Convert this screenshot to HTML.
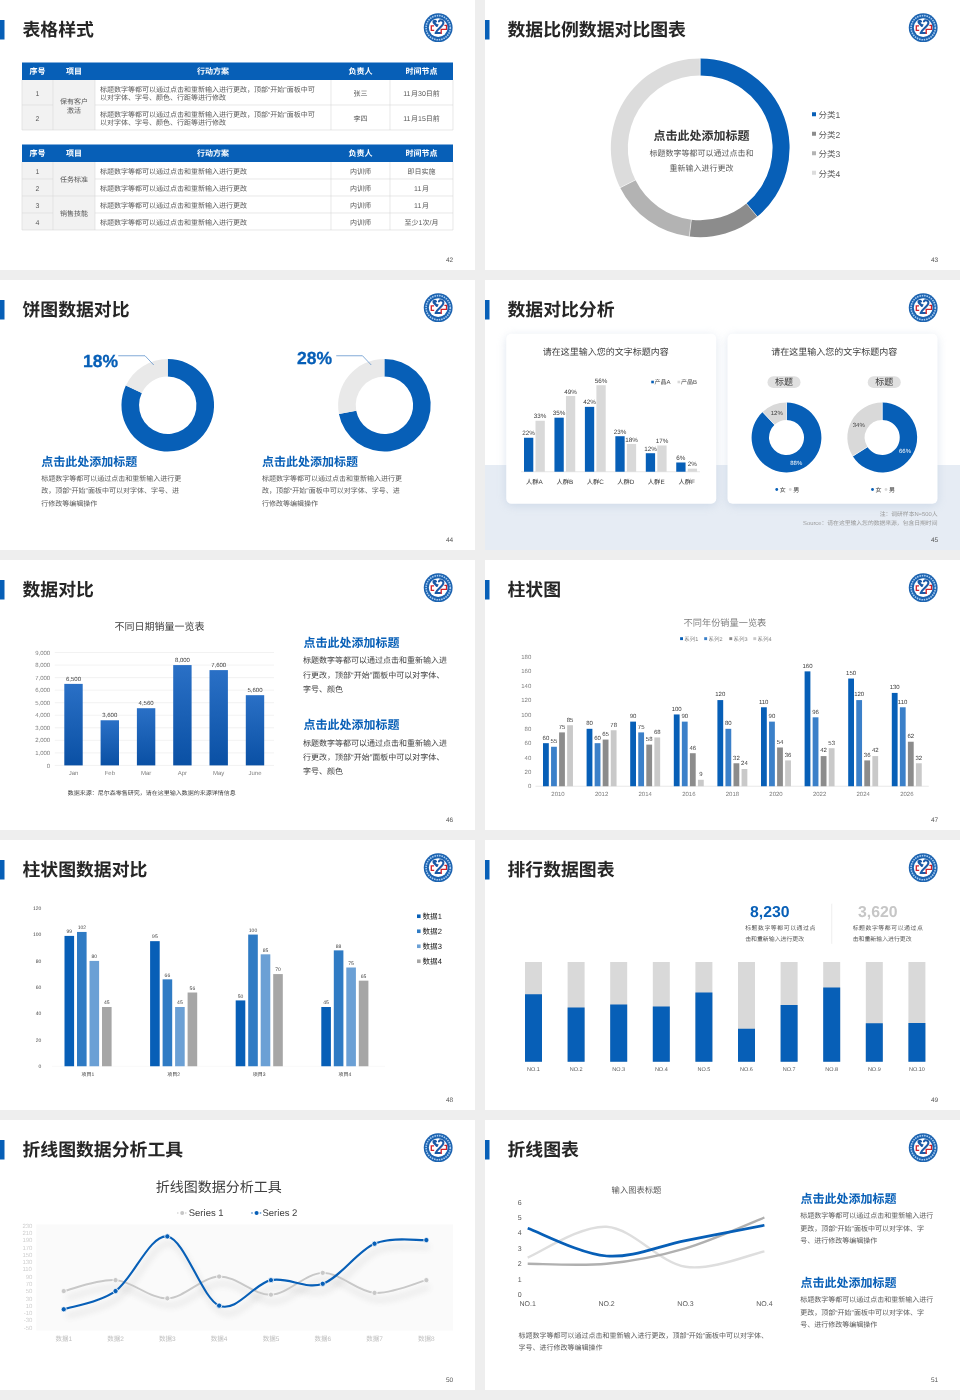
<!DOCTYPE html>
<html lang="zh"><head><meta charset="utf-8"><title>PPT</title>
<style>html,body{margin:0;padding:0;background:#eeeeee;}svg{display:block;opacity:.999}text{font-family:"Liberation Sans","Noto Sans CJK SC",sans-serif;text-rendering:geometricPrecision;}</style>
</head><body>
<svg width="960" height="1400" viewBox="0 0 960 1400" font-family="Liberation Sans, Noto Sans CJK SC, sans-serif">
<defs><g id="logo"><circle r="14.4" fill="#1c63b0"/><circle r="12.100" fill="none" stroke="#a9cdf2" stroke-width="1.600" stroke-dasharray="1.5 0.9"/><circle r="9.4" fill="#fff"/><g fill="none" stroke="#1a59a6" stroke-width="2" stroke-linecap="round" stroke-linejoin="round"><path d="M0.700-6.300C1.900-8 5.500-7.600 5.200-4.600C5-1.600-.2.600-2.700 5.400H2"/><path d="M-1.200-1.900L-3.900-4.500C-5.400-6.200-3.600-7.700-2.300-6.200" stroke-width="2.300"/></g><circle cx="-.4" cy="-2.900" r=".8" fill="#1a59a6"/><g fill="none" stroke="#cf222a" stroke-width="1.300"><path d="M-4.200-1.800H-6.900V2.600H-4"/><path d="M6.200-2.400H8.300V1.600H3V6.200"/></g></g>
<filter id="sh" x="-20%" y="-20%" width="140%" height="140%"><feGaussianBlur stdDeviation="5"/></filter><linearGradient id="bg5" x1="0" y1="0" x2="0" y2="1"><stop offset="0" stop-color="#2a70c6"/><stop offset="1" stop-color="#0a50a4"/></linearGradient><filter id="ls" x="-10%" y="-30%" width="120%" height="180%"><feGaussianBlur stdDeviation="3"/></filter></defs>
<rect width="960" height="1400" fill="#eeeeee"/>
<g transform="translate(0 0)"><rect x="0" y="0" width="475" height="270" fill="#fff"/><rect x="0" y="20" width="4.5" height="19.5" fill="#075fb7"/><g fill="#262626"><text y="36.3" font-size="17.85" font-weight="bold"><tspan x="22.5">表格样式</tspan></text></g><use href="#logo" x="438.2" y="27.7"/><g fill="#555"><text y="262" font-size="6.5"><tspan x="445.89">42</tspan></text></g><rect x="22" y="62.5" width="431" height="17.5" fill="#075fb7"/><g fill="#fff"><text y="74.15" font-size="8" font-weight="bold"><tspan x="29.5">序号</tspan></text></g><g fill="#fff"><text y="74.15" font-size="8" font-weight="bold"><tspan x="66">项目</tspan></text></g><g fill="#fff"><text y="74.15" font-size="8" font-weight="bold"><tspan x="197">行动方案</tspan></text></g><g fill="#fff"><text y="74.15" font-size="8" font-weight="bold"><tspan x="348.5">负责人</tspan></text></g><g fill="#fff"><text y="74.15" font-size="8" font-weight="bold"><tspan x="405.5">时间节点</tspan></text></g><rect x="22" y="80" width="73" height="50" fill="#f2f2f2"/><rect x="95" y="80" width="358" height="50" fill="#fff"/><line x1="22" y1="105" x2="53" y2="105" stroke="#d9d9d9" stroke-width="0.6"/><line x1="95" y1="105" x2="453" y2="105" stroke="#d9d9d9" stroke-width="0.6"/><line x1="22" y1="130" x2="53" y2="130" stroke="#d9d9d9" stroke-width="0.6"/><line x1="95" y1="130" x2="453" y2="130" stroke="#d9d9d9" stroke-width="0.6"/><line x1="53" y1="130" x2="95" y2="130" stroke="#d9d9d9" stroke-width="0.6"/><line x1="22" y1="80" x2="22" y2="130" stroke="#d9d9d9" stroke-width="0.6"/><line x1="53" y1="80" x2="53" y2="130" stroke="#d9d9d9" stroke-width="0.6"/><line x1="95" y1="80" x2="95" y2="130" stroke="#d9d9d9" stroke-width="0.6"/><line x1="331" y1="80" x2="331" y2="130" stroke="#d9d9d9" stroke-width="0.6"/><line x1="390" y1="80" x2="390" y2="130" stroke="#d9d9d9" stroke-width="0.6"/><line x1="453" y1="80" x2="453" y2="130" stroke="#d9d9d9" stroke-width="0.6"/><g fill="#595959"><text y="95.5" font-size="7"><tspan x="35.55">1</tspan></text></g><g fill="#595959"><text y="92.1" font-size="7"><tspan x="100">标题数字等都可以通过点击和重新输入进行更改，顶部“开始”面板中可</tspan></text></g><g fill="#595959"><text y="100.1" font-size="7"><tspan x="100">以对字体、字号、颜色、行距等进行修改</tspan></text></g><g fill="#595959"><text y="95.8" font-size="7"><tspan x="353.5">张三</tspan></text></g><g fill="#595959"><text y="95.8" font-size="7"><tspan x="403.21">11</tspan><tspan x="411">月</tspan><tspan x="418">30</tspan><tspan x="425.79">日前</tspan></text></g><g fill="#595959"><text y="120.5" font-size="7"><tspan x="35.55">2</tspan></text></g><g fill="#595959"><text y="117.1" font-size="7"><tspan x="100">标题数字等都可以通过点击和重新输入进行更改，顶部“开始”面板中可</tspan></text></g><g fill="#595959"><text y="125.1" font-size="7"><tspan x="100">以对字体、字号、颜色、行距等进行修改</tspan></text></g><g fill="#595959"><text y="120.8" font-size="7"><tspan x="353.5">李四</tspan></text></g><g fill="#595959"><text y="120.8" font-size="7"><tspan x="403.21">11</tspan><tspan x="411">月</tspan><tspan x="418">15</tspan><tspan x="425.79">日前</tspan></text></g><g fill="#595959"><text y="104" font-size="7"><tspan x="60">保有客户</tspan></text></g><g fill="#595959"><text y="112.5" font-size="7"><tspan x="67">激活</tspan></text></g><rect x="22" y="144.5" width="431" height="17.5" fill="#075fb7"/><g fill="#fff"><text y="156.15" font-size="8" font-weight="bold"><tspan x="29.5">序号</tspan></text></g><g fill="#fff"><text y="156.15" font-size="8" font-weight="bold"><tspan x="66">项目</tspan></text></g><g fill="#fff"><text y="156.15" font-size="8" font-weight="bold"><tspan x="197">行动方案</tspan></text></g><g fill="#fff"><text y="156.15" font-size="8" font-weight="bold"><tspan x="348.5">负责人</tspan></text></g><g fill="#fff"><text y="156.15" font-size="8" font-weight="bold"><tspan x="405.5">时间节点</tspan></text></g><rect x="22" y="162" width="73" height="68" fill="#f2f2f2"/><rect x="95" y="162" width="358" height="68" fill="#fff"/><line x1="22" y1="179" x2="53" y2="179" stroke="#d9d9d9" stroke-width="0.6"/><line x1="95" y1="179" x2="453" y2="179" stroke="#d9d9d9" stroke-width="0.6"/><line x1="22" y1="196" x2="53" y2="196" stroke="#d9d9d9" stroke-width="0.6"/><line x1="95" y1="196" x2="453" y2="196" stroke="#d9d9d9" stroke-width="0.6"/><line x1="53" y1="196" x2="95" y2="196" stroke="#d9d9d9" stroke-width="0.6"/><line x1="22" y1="213" x2="53" y2="213" stroke="#d9d9d9" stroke-width="0.6"/><line x1="95" y1="213" x2="453" y2="213" stroke="#d9d9d9" stroke-width="0.6"/><line x1="22" y1="230" x2="53" y2="230" stroke="#d9d9d9" stroke-width="0.6"/><line x1="95" y1="230" x2="453" y2="230" stroke="#d9d9d9" stroke-width="0.6"/><line x1="53" y1="230" x2="95" y2="230" stroke="#d9d9d9" stroke-width="0.6"/><line x1="22" y1="162" x2="22" y2="230" stroke="#d9d9d9" stroke-width="0.6"/><line x1="53" y1="162" x2="53" y2="230" stroke="#d9d9d9" stroke-width="0.6"/><line x1="95" y1="162" x2="95" y2="230" stroke="#d9d9d9" stroke-width="0.6"/><line x1="331" y1="162" x2="331" y2="230" stroke="#d9d9d9" stroke-width="0.6"/><line x1="390" y1="162" x2="390" y2="230" stroke="#d9d9d9" stroke-width="0.6"/><line x1="453" y1="162" x2="453" y2="230" stroke="#d9d9d9" stroke-width="0.6"/><g fill="#595959"><text y="173.5" font-size="7"><tspan x="35.55">1</tspan></text></g><g fill="#595959"><text y="173.8" font-size="7"><tspan x="100">标题数字等都可以通过点击和重新输入进行更改</tspan></text></g><g fill="#595959"><text y="173.8" font-size="7"><tspan x="350">内训师</tspan></text></g><g fill="#595959"><text y="173.8" font-size="7"><tspan x="407.5">即日实施</tspan></text></g><g fill="#595959"><text y="190.5" font-size="7"><tspan x="35.55">2</tspan></text></g><g fill="#595959"><text y="190.8" font-size="7"><tspan x="100">标题数字等都可以通过点击和重新输入进行更改</tspan></text></g><g fill="#595959"><text y="190.8" font-size="7"><tspan x="350">内训师</tspan></text></g><g fill="#595959"><text y="190.8" font-size="7"><tspan x="414.11">11</tspan><tspan x="421.89">月</tspan></text></g><g fill="#595959"><text y="207.5" font-size="7"><tspan x="35.55">3</tspan></text></g><g fill="#595959"><text y="207.8" font-size="7"><tspan x="100">标题数字等都可以通过点击和重新输入进行更改</tspan></text></g><g fill="#595959"><text y="207.8" font-size="7"><tspan x="350">内训师</tspan></text></g><g fill="#595959"><text y="207.8" font-size="7"><tspan x="414.11">11</tspan><tspan x="421.89">月</tspan></text></g><g fill="#595959"><text y="224.5" font-size="7"><tspan x="35.55">4</tspan></text></g><g fill="#595959"><text y="224.8" font-size="7"><tspan x="100">标题数字等都可以通过点击和重新输入进行更改</tspan></text></g><g fill="#595959"><text y="224.8" font-size="7"><tspan x="350">内训师</tspan></text></g><g fill="#595959"><text y="224.8" font-size="7"><tspan x="404.58">至少</tspan><tspan x="418.58">1</tspan><tspan x="422.47">次</tspan><tspan x="429.47">/</tspan><tspan x="431.42">月</tspan></text></g><g fill="#595959"><text y="181.6" font-size="7"><tspan x="60">任务标准</tspan></text></g><g fill="#595959"><text y="215.6" font-size="7"><tspan x="60">销售技能</tspan></text></g></g><g transform="translate(485 0)"><rect x="0" y="0" width="475" height="270" fill="#fff"/><rect x="0" y="20" width="4.5" height="19.5" fill="#075fb7"/><g fill="#262626"><text y="36.3" font-size="17.85" font-weight="bold"><tspan x="22.5">数据比例数据对比图表</tspan></text></g><use href="#logo" x="438.2" y="27.7"/><g fill="#555"><text y="262" font-size="6.5"><tspan x="445.89">43</tspan></text></g><path d="M215.2 58.4A89.4 89.4 0 0 1 272.31 216.58L261.45 203.5A72.4 72.4 0 0 0 215.2 75.4Z" fill="#075fb7"/><path d="M272.31 216.58A89.4 89.4 0 0 1 204.3 236.53L206.38 219.66A72.4 72.4 0 0 0 261.45 203.5Z" fill="#8c8c8c"/><path d="M204.3 236.53A89.4 89.4 0 0 1 135.19 187.69L150.41 180.1A72.4 72.4 0 0 0 206.38 219.66Z" fill="#b3b3b3"/><path d="M135.19 187.69A89.4 89.4 0 0 1 215.2 58.4L215.2 75.4A72.4 72.4 0 0 0 150.41 180.1Z" fill="#dcdcdc"/><line x1="261.13" y1="203.12" x2="272.63" y2="216.97" stroke="#fff" stroke-width="0.5"/><line x1="206.44" y1="219.16" x2="204.24" y2="237.03" stroke="#fff" stroke-width="0.5"/><line x1="150.85" y1="179.88" x2="134.75" y2="187.91" stroke="#fff" stroke-width="0.5"/><line x1="215.2" y1="75.9" x2="215.2" y2="57.9" stroke="#fff" stroke-width="0.5"/><g fill="#333"><text y="140.4" font-size="12" font-weight="bold"><tspan x="168.5">点击此处添加标题</tspan></text></g><g fill="#595959"><text y="156" font-size="8"><tspan x="164.5">标题数字等都可以通过点击和</tspan></text></g><g fill="#595959"><text y="170.5" font-size="8"><tspan x="184.5">重新输入进行更改</tspan></text></g><rect x="327" y="112.25" width="4" height="4" fill="#075fb7"/><g fill="#595959"><text y="118.15" font-size="8.5"><tspan x="333.5">分类</tspan><tspan x="350.5">1</tspan></text></g><rect x="327" y="131.75" width="4" height="4" fill="#8c8c8c"/><g fill="#595959"><text y="137.65" font-size="8.5"><tspan x="333.5">分类</tspan><tspan x="350.5">2</tspan></text></g><rect x="327" y="151.25" width="4" height="4" fill="#b3b3b3"/><g fill="#595959"><text y="157.15" font-size="8.5"><tspan x="333.5">分类</tspan><tspan x="350.5">3</tspan></text></g><rect x="327" y="170.75" width="4" height="4" fill="#dcdcdc"/><g fill="#595959"><text y="176.65" font-size="8.5"><tspan x="333.5">分类</tspan><tspan x="350.5">4</tspan></text></g></g><g transform="translate(0 280)"><rect x="0" y="0" width="475" height="270" fill="#fff"/><rect x="0" y="20" width="4.5" height="19.5" fill="#075fb7"/><g fill="#262626"><text y="36.3" font-size="17.85" font-weight="bold"><tspan x="22.5">饼图数据对比</tspan></text></g><use href="#logo" x="438.2" y="27.7"/><g fill="#555"><text y="262" font-size="6.5"><tspan x="445.89">44</tspan></text></g><path d="M167.75 78.95A46.3 46.3 0 1 1 125.86 105.54L141.78 113.03A28.7 28.7 0 1 0 167.75 96.55Z" fill="#075fb7"/><path d="M125.86 105.54A46.3 46.3 0 0 1 167.75 78.95L167.75 96.55A28.7 28.7 0 0 0 141.78 113.03Z" fill="#e9e9e9"/><g fill="#075fb7"><text y="86.75" font-size="17.5" font-weight="bold"><tspan x="83" stroke="#075fb7" stroke-width="0.3">18%</tspan></text></g><path d="M118.25 75.75H145L153.75 85" fill="none" stroke="#4d86c6" stroke-width="0.7"/><g fill="#075fb7"><text y="185.6" font-size="12" font-weight="bold"><tspan x="41.25">点击此处添加标题</tspan></text></g><g fill="#595959"><text y="200.6" font-size="7"><tspan x="41.25">标题数字等都可以通过点击和重新输入进行更</tspan></text></g><g fill="#595959"><text y="213.1" font-size="7"><tspan x="41.25">改，顶部“开始”面板中可以对字体、字号、进</tspan></text></g><g fill="#595959"><text y="225.6" font-size="7"><tspan x="41.25">行修改等编辑操作</tspan></text></g><path d="M384.4 78.95A46.3 46.3 0 1 1 338.92 133.93L356.21 130.63A28.7 28.7 0 1 0 384.4 96.55Z" fill="#075fb7"/><path d="M338.92 133.93A46.3 46.3 0 0 1 384.4 78.95L384.4 96.55A28.7 28.7 0 0 0 356.21 130.63Z" fill="#e9e9e9"/><g fill="#075fb7"><text y="84" font-size="17.5" font-weight="bold"><tspan x="297" stroke="#075fb7" stroke-width="0.3">28%</tspan></text></g><path d="M336.25 75.75H362.5L371.25 85" fill="none" stroke="#4d86c6" stroke-width="0.7"/><g fill="#075fb7"><text y="185.6" font-size="12" font-weight="bold"><tspan x="262">点击此处添加标题</tspan></text></g><g fill="#595959"><text y="200.6" font-size="7"><tspan x="262">标题数字等都可以通过点击和重新输入进行更</tspan></text></g><g fill="#595959"><text y="213.1" font-size="7"><tspan x="262">改，顶部“开始”面板中可以对字体、字号、进</tspan></text></g><g fill="#595959"><text y="225.6" font-size="7"><tspan x="262">行修改等编辑操作</tspan></text></g></g><g transform="translate(485 280)"><rect x="0" y="0" width="475" height="270" fill="#fff"/><rect x="0" y="20" width="4.5" height="19.5" fill="#075fb7"/><g fill="#262626"><text y="36.3" font-size="17.85" font-weight="bold"><tspan x="22.5">数据对比分析</tspan></text></g><use href="#logo" x="438.2" y="27.7"/><g fill="#555"><text y="262" font-size="6.5"><tspan x="445.89">45</tspan></text></g><rect x="0" y="185" width="475" height="85" fill="#e6ecf4"/><g fill="#555"><text y="262" font-size="6.5"><tspan x="445.89">45</tspan></text></g><rect x="21.25" y="55.75" width="210" height="170" rx="6" fill="#9fb4cf" opacity="0.35" filter="url(#sh)"/><rect x="21.25" y="53.75" width="210" height="170" rx="5" fill="#fff"/><rect x="242.5" y="55.75" width="210" height="170" rx="6" fill="#9fb4cf" opacity="0.35" filter="url(#sh)"/><rect x="242.5" y="53.75" width="210" height="170" rx="5" fill="#fff"/><g fill="#404040"><text y="75.3" font-size="9"><tspan x="57.63">请在这里输入您的文字标题内容</tspan></text></g><g fill="#404040"><text y="75.3" font-size="9"><tspan x="286.13">请在这里输入您的文字标题内容</tspan></text></g><line x1="36" y1="191.75" x2="215" y2="191.75" stroke="#d9d9d9" stroke-width="0.6"/><rect x="39" y="157.76" width="9.3" height="33.99" fill="#075fb7"/><rect x="50.5" y="140.76" width="9.3" height="50.98" fill="#d9d9d9"/><g fill="#404040"><text y="155.36" font-size="6.3"><tspan x="37.35">22%</tspan></text></g><g fill="#404040"><text y="138.36" font-size="6.3"><tspan x="48.85">33%</tspan></text></g><g fill="#404040"><text y="204" font-size="6.3"><tspan x="41">人群</tspan><tspan x="53.6">A</tspan></text></g><rect x="69.45" y="137.68" width="9.3" height="54.07" fill="#075fb7"/><rect x="80.95" y="116.05" width="9.3" height="75.7" fill="#d9d9d9"/><g fill="#404040"><text y="135.28" font-size="6.3"><tspan x="67.8">35%</tspan></text></g><g fill="#404040"><text y="113.64" font-size="6.3"><tspan x="79.3">49%</tspan></text></g><g fill="#404040"><text y="204" font-size="6.3"><tspan x="71.45">人群</tspan><tspan x="84.05">B</tspan></text></g><rect x="99.9" y="126.86" width="9.3" height="64.89" fill="#075fb7"/><rect x="111.4" y="105.23" width="9.3" height="86.52" fill="#d9d9d9"/><g fill="#404040"><text y="124.46" font-size="6.3"><tspan x="98.25">42%</tspan></text></g><g fill="#404040"><text y="102.83" font-size="6.3"><tspan x="109.75">56%</tspan></text></g><g fill="#404040"><text y="204" font-size="6.3"><tspan x="101.73">人群</tspan><tspan x="114.33">C</tspan></text></g><rect x="130.35" y="156.22" width="9.3" height="35.53" fill="#075fb7"/><rect x="141.85" y="163.94" width="9.3" height="27.81" fill="#d9d9d9"/><g fill="#404040"><text y="153.81" font-size="6.3"><tspan x="128.7">23%</tspan></text></g><g fill="#404040"><text y="161.54" font-size="6.3"><tspan x="140.2">18%</tspan></text></g><g fill="#404040"><text y="204" font-size="6.3"><tspan x="132.18">人群</tspan><tspan x="144.78">D</tspan></text></g><rect x="160.8" y="173.21" width="9.3" height="18.54" fill="#075fb7"/><rect x="172.3" y="165.49" width="9.3" height="26.27" fill="#d9d9d9"/><g fill="#404040"><text y="170.81" font-size="6.3"><tspan x="159.15">12%</tspan></text></g><g fill="#404040"><text y="163.09" font-size="6.3"><tspan x="170.65">17%</tspan></text></g><g fill="#404040"><text y="204" font-size="6.3"><tspan x="162.8">人群</tspan><tspan x="175.4">E</tspan></text></g><rect x="191.25" y="182.48" width="9.3" height="9.27" fill="#075fb7"/><rect x="202.75" y="188.66" width="9.3" height="3.09" fill="#d9d9d9"/><g fill="#404040"><text y="180.08" font-size="6.3"><tspan x="191.35">6%</tspan></text></g><g fill="#404040"><text y="186.26" font-size="6.3"><tspan x="202.85">2%</tspan></text></g><g fill="#404040"><text y="204" font-size="6.3"><tspan x="193.43">人群</tspan><tspan x="206.03">F</tspan></text></g><rect x="166.25" y="100.7" width="2.6" height="2.6" fill="#075fb7"/><g fill="#404040"><text y="104" font-size="6"><tspan x="169.6">产品</tspan><tspan x="181.6">A</tspan></text></g><rect x="192.5" y="100.7" width="2.6" height="2.6" fill="#d9d9d9"/><g fill="#404040"><text y="104" font-size="6"><tspan x="196">产品</tspan><tspan x="208">B</tspan></text></g><rect x="282.5" y="96.25" width="33" height="11.75" rx="5.9" fill="#e0e0e0"/><g fill="#404040"><text y="105.4" font-size="9"><tspan x="290">标题</tspan></text></g><rect x="382.75" y="96.25" width="33" height="11.75" rx="5.9" fill="#e0e0e0"/><g fill="#404040"><text y="105.4" font-size="9"><tspan x="390.25">标题</tspan></text></g><path d="M301.5 122.6A34.9 34.9 0 1 1 277.61 132.06L289.52 144.74A17.5 17.5 0 1 0 301.5 140Z" fill="#075fb7"/><path d="M277.61 132.06A34.9 34.9 0 0 1 301.5 122.6L301.5 140A17.5 17.5 0 0 0 289.52 144.74Z" fill="#d9d9d9"/><line x1="289.86" y1="145.11" x2="277.27" y2="131.69" stroke="#fff" stroke-width="0.6"/><line x1="301.5" y1="140.5" x2="301.5" y2="122.1" stroke="#fff" stroke-width="0.6"/><g fill="#404040"><text y="135.4" font-size="6"><tspan x="285.75">12%</tspan></text></g><g fill="#fff"><text y="184.6" font-size="6"><tspan x="305.25">88%</tspan></text></g><circle cx="291.75" cy="209.5" r="1.4" fill="#075fb7"/><g fill="#404040"><text y="211.7" font-size="6"><tspan x="294.75">女</tspan></text></g><circle cx="305.25" cy="209.5" r="1.4" fill="#d9d9d9"/><g fill="#404040"><text y="211.7" font-size="6"><tspan x="308.25">男</tspan></text></g><path d="M397.25 122.6A34.9 34.9 0 1 1 367.78 176.2L382.47 166.88A17.5 17.5 0 1 0 397.25 140Z" fill="#075fb7"/><path d="M367.78 176.2A34.9 34.9 0 0 1 397.25 122.6L397.25 140A17.5 17.5 0 0 0 382.47 166.88Z" fill="#d9d9d9"/><line x1="382.9" y1="166.61" x2="367.36" y2="176.47" stroke="#fff" stroke-width="0.6"/><line x1="397.25" y1="140.5" x2="397.25" y2="122.1" stroke="#fff" stroke-width="0.6"/><g fill="#404040"><text y="147.1" font-size="6"><tspan x="367.75">34%</tspan></text></g><g fill="#fff"><text y="172.6" font-size="6"><tspan x="414">66%</tspan></text></g><circle cx="387.5" cy="209.5" r="1.4" fill="#075fb7"/><g fill="#404040"><text y="211.7" font-size="6"><tspan x="390.5">女</tspan></text></g><circle cx="401" cy="209.5" r="1.4" fill="#d9d9d9"/><g fill="#404040"><text y="211.7" font-size="6"><tspan x="404">男</tspan></text></g><g fill="#999"><text y="235.8" font-size="5.8"><tspan x="394.65">注：调研样本</tspan><tspan x="429.45">N=500</tspan><tspan x="446.7">人</tspan></text></g><g fill="#999"><text y="245" font-size="5.8"><tspan x="318.12">Source</tspan><tspan x="336.5">：请在这里输入您的数据来源，包含日期时间</tspan></text></g></g><g transform="translate(0 560)"><rect x="0" y="0" width="475" height="270" fill="#fff"/><rect x="0" y="20" width="4.5" height="19.5" fill="#075fb7"/><g fill="#262626"><text y="36.3" font-size="17.85" font-weight="bold"><tspan x="22.5">数据对比</tspan></text></g><use href="#logo" x="438.2" y="27.7"/><g fill="#555"><text y="262" font-size="6.5"><tspan x="445.89">46</tspan></text></g><g fill="#404040"><text y="69.8" font-size="10"><tspan x="114.4">不同日期销量一览表</tspan></text></g><line x1="54.8" y1="205.4" x2="274" y2="205.4" stroke="#e4e4e4" stroke-width="0.5"/><g fill="#7f7f7f"><text y="207.5" font-size="6"><tspan x="46.86">0</tspan></text></g><line x1="54.8" y1="192.86" x2="274" y2="192.86" stroke="#e4e4e4" stroke-width="0.5"/><g fill="#7f7f7f"><text y="194.96" font-size="6"><tspan x="35.19">1,000</tspan></text></g><line x1="54.8" y1="180.32" x2="274" y2="180.32" stroke="#e4e4e4" stroke-width="0.5"/><g fill="#7f7f7f"><text y="182.42" font-size="6"><tspan x="35.19">2,000</tspan></text></g><line x1="54.8" y1="167.78" x2="274" y2="167.78" stroke="#e4e4e4" stroke-width="0.5"/><g fill="#7f7f7f"><text y="169.88" font-size="6"><tspan x="35.19">3,000</tspan></text></g><line x1="54.8" y1="155.24" x2="274" y2="155.24" stroke="#e4e4e4" stroke-width="0.5"/><g fill="#7f7f7f"><text y="157.34" font-size="6"><tspan x="35.19">4,000</tspan></text></g><line x1="54.8" y1="142.7" x2="274" y2="142.7" stroke="#e4e4e4" stroke-width="0.5"/><g fill="#7f7f7f"><text y="144.8" font-size="6"><tspan x="35.19">5,000</tspan></text></g><line x1="54.8" y1="130.16" x2="274" y2="130.16" stroke="#e4e4e4" stroke-width="0.5"/><g fill="#7f7f7f"><text y="132.26" font-size="6"><tspan x="35.19">6,000</tspan></text></g><line x1="54.8" y1="117.62" x2="274" y2="117.62" stroke="#e4e4e4" stroke-width="0.5"/><g fill="#7f7f7f"><text y="119.72" font-size="6"><tspan x="35.19">7,000</tspan></text></g><line x1="54.8" y1="105.08" x2="274" y2="105.08" stroke="#e4e4e4" stroke-width="0.5"/><g fill="#7f7f7f"><text y="107.18" font-size="6"><tspan x="35.19">8,000</tspan></text></g><line x1="54.8" y1="92.54" x2="274" y2="92.54" stroke="#e4e4e4" stroke-width="0.5"/><g fill="#7f7f7f"><text y="94.64" font-size="6"><tspan x="35.19">9,000</tspan></text></g><rect x="64.3" y="123.89" width="18.4" height="81.51" fill="url(#bg5)"/><g fill="#404040"><text y="120.59" font-size="6"><tspan x="65.99">6,500</tspan></text></g><g fill="#7f7f7f"><text y="214.7" font-size="6"><tspan x="68.66">Jan</tspan></text></g><rect x="100.6" y="160.26" width="18.4" height="45.14" fill="url(#bg5)"/><g fill="#404040"><text y="156.96" font-size="6"><tspan x="102.29">3,600</tspan></text></g><g fill="#7f7f7f"><text y="214.7" font-size="6"><tspan x="104.63">Feb</tspan></text></g><rect x="136.9" y="148.22" width="18.4" height="57.18" fill="url(#bg5)"/><g fill="#404040"><text y="144.92" font-size="6"><tspan x="138.59">4,560</tspan></text></g><g fill="#7f7f7f"><text y="214.7" font-size="6"><tspan x="140.93">Mar</tspan></text></g><rect x="173.2" y="105.08" width="18.4" height="100.32" fill="url(#bg5)"/><g fill="#404040"><text y="101.78" font-size="6"><tspan x="174.89">8,000</tspan></text></g><g fill="#7f7f7f"><text y="214.7" font-size="6"><tspan x="177.73">Apr</tspan></text></g><rect x="209.5" y="110.1" width="18.4" height="95.3" fill="url(#bg5)"/><g fill="#404040"><text y="106.8" font-size="6"><tspan x="211.19">7,600</tspan></text></g><g fill="#7f7f7f"><text y="214.7" font-size="6"><tspan x="213.03">May</tspan></text></g><rect x="245.8" y="135.18" width="18.4" height="70.22" fill="url(#bg5)"/><g fill="#404040"><text y="131.88" font-size="6"><tspan x="247.49">5,600</tspan></text></g><g fill="#7f7f7f"><text y="214.7" font-size="6"><tspan x="248.49">June</tspan></text></g><g fill="#404040"><text y="235.2" font-size="6"><tspan x="67.84">数据来源：尼尔森零售研究，请在这里输入数据的来源详情信息</tspan></text></g><g fill="#075fb7"><text y="87" font-size="12" font-weight="bold"><tspan x="303.5">点击此处添加标题</tspan></text></g><g fill="#404040"><text y="103.2" font-size="8"><tspan x="303">标题数字等都可以通过点击和重新输入进</tspan></text></g><g fill="#404040"><text y="117.5" font-size="8"><tspan x="303">行更改，顶部“开始”面板中可以对字体、</tspan></text></g><g fill="#404040"><text y="131.8" font-size="8"><tspan x="303">字号、颜色</tspan></text></g><g fill="#075fb7"><text y="169.3" font-size="12" font-weight="bold"><tspan x="303.5">点击此处添加标题</tspan></text></g><g fill="#404040"><text y="185.5" font-size="8"><tspan x="303">标题数字等都可以通过点击和重新输入进</tspan></text></g><g fill="#404040"><text y="199.8" font-size="8"><tspan x="303">行更改，顶部“开始”面板中可以对字体、</tspan></text></g><g fill="#404040"><text y="214.1" font-size="8"><tspan x="303">字号、颜色</tspan></text></g></g><g transform="translate(485 560)"><rect x="0" y="0" width="475" height="270" fill="#fff"/><rect x="0" y="20" width="4.5" height="19.5" fill="#075fb7"/><g fill="#262626"><text y="36.3" font-size="17.85" font-weight="bold"><tspan x="22.5">柱状图</tspan></text></g><use href="#logo" x="438.2" y="27.7"/><g fill="#555"><text y="262" font-size="6.5"><tspan x="445.89">47</tspan></text></g><g fill="#7f7f7f"><text y="65.9" font-size="9.2"><tspan x="198.6">不同年份销量一览表</tspan></text></g><rect x="195.1" y="77.2" width="2.9" height="2.9" fill="#075fb7"/><g fill="#7f7f7f"><text y="80.6" font-size="5.5"><tspan x="199.3">系列</tspan><tspan x="210.3">1</tspan></text></g><rect x="219.2" y="77.2" width="2.9" height="2.9" fill="#3b80c9"/><g fill="#7f7f7f"><text y="80.6" font-size="5.5"><tspan x="223.4">系列</tspan><tspan x="234.4">2</tspan></text></g><rect x="244.3" y="77.2" width="2.9" height="2.9" fill="#8c8c8c"/><g fill="#7f7f7f"><text y="80.6" font-size="5.5"><tspan x="248.5">系列</tspan><tspan x="259.5">3</tspan></text></g><rect x="268.3" y="77.2" width="2.9" height="2.9" fill="#c9c9c9"/><g fill="#7f7f7f"><text y="80.6" font-size="5.5"><tspan x="272.5">系列</tspan><tspan x="283.5">4</tspan></text></g><g fill="#7f7f7f"><text y="228.35" font-size="6"><tspan x="42.91">0</tspan></text></g><g fill="#7f7f7f"><text y="213.99" font-size="6"><tspan x="39.58">20</tspan></text></g><g fill="#7f7f7f"><text y="199.63" font-size="6"><tspan x="39.58">40</tspan></text></g><g fill="#7f7f7f"><text y="185.27" font-size="6"><tspan x="39.58">60</tspan></text></g><g fill="#7f7f7f"><text y="170.91" font-size="6"><tspan x="39.58">80</tspan></text></g><g fill="#7f7f7f"><text y="156.55" font-size="6"><tspan x="36.24">100</tspan></text></g><g fill="#7f7f7f"><text y="142.19" font-size="6"><tspan x="36.24">120</tspan></text></g><g fill="#7f7f7f"><text y="127.83" font-size="6"><tspan x="36.24">140</tspan></text></g><g fill="#7f7f7f"><text y="113.47" font-size="6"><tspan x="36.24">160</tspan></text></g><g fill="#7f7f7f"><text y="99.11" font-size="6"><tspan x="36.24">180</tspan></text></g><line x1="50.5" y1="226.25" x2="443.75" y2="226.25" stroke="#d9d9d9" stroke-width="0.6"/><rect x="58" y="183.17" width="5.8" height="43.08" fill="#075fb7"/><g fill="#404040"><text y="179.57" font-size="6"><tspan x="57.56">60</tspan></text></g><rect x="66.05" y="186.76" width="5.8" height="39.49" fill="#3b80c9"/><g fill="#404040"><text y="183.16" font-size="6"><tspan x="65.61">55</tspan></text></g><rect x="74.1" y="172.4" width="5.8" height="53.85" fill="#8c8c8c"/><g fill="#404040"><text y="168.8" font-size="6"><tspan x="73.66">75</tspan></text></g><rect x="82.15" y="165.22" width="5.8" height="61.03" fill="#c9c9c9"/><g fill="#404040"><text y="161.62" font-size="6"><tspan x="81.71">85</tspan></text></g><g fill="#7f7f7f"><text y="235.85" font-size="6"><tspan x="66.33">2010</tspan></text></g><rect x="101.6" y="168.81" width="5.8" height="57.44" fill="#075fb7"/><g fill="#404040"><text y="165.21" font-size="6"><tspan x="101.16">80</tspan></text></g><rect x="109.65" y="183.17" width="5.8" height="43.08" fill="#3b80c9"/><g fill="#404040"><text y="179.57" font-size="6"><tspan x="109.21">60</tspan></text></g><rect x="117.7" y="179.58" width="5.8" height="46.67" fill="#8c8c8c"/><g fill="#404040"><text y="175.98" font-size="6"><tspan x="117.26">65</tspan></text></g><rect x="125.75" y="170.25" width="5.8" height="56" fill="#c9c9c9"/><g fill="#404040"><text y="166.65" font-size="6"><tspan x="125.31">78</tspan></text></g><g fill="#7f7f7f"><text y="235.85" font-size="6"><tspan x="109.93">2012</tspan></text></g><rect x="145.2" y="161.63" width="5.8" height="64.62" fill="#075fb7"/><g fill="#404040"><text y="158.03" font-size="6"><tspan x="144.76">90</tspan></text></g><rect x="153.25" y="172.4" width="5.8" height="53.85" fill="#3b80c9"/><g fill="#404040"><text y="168.8" font-size="6"><tspan x="152.81">75</tspan></text></g><rect x="161.3" y="184.61" width="5.8" height="41.64" fill="#8c8c8c"/><g fill="#404040"><text y="181.01" font-size="6"><tspan x="160.86">58</tspan></text></g><rect x="169.35" y="177.43" width="5.8" height="48.82" fill="#c9c9c9"/><g fill="#404040"><text y="173.83" font-size="6"><tspan x="168.91">68</tspan></text></g><g fill="#7f7f7f"><text y="235.85" font-size="6"><tspan x="153.53">2014</tspan></text></g><rect x="188.8" y="154.45" width="5.8" height="71.8" fill="#075fb7"/><g fill="#404040"><text y="150.85" font-size="6"><tspan x="186.69">100</tspan></text></g><rect x="196.85" y="161.63" width="5.8" height="64.62" fill="#3b80c9"/><g fill="#404040"><text y="158.03" font-size="6"><tspan x="196.41">90</tspan></text></g><rect x="204.9" y="193.22" width="5.8" height="33.03" fill="#8c8c8c"/><g fill="#404040"><text y="189.62" font-size="6"><tspan x="204.46">46</tspan></text></g><rect x="212.95" y="219.79" width="5.8" height="6.46" fill="#c9c9c9"/><g fill="#404040"><text y="216.19" font-size="6"><tspan x="214.18">9</tspan></text></g><g fill="#7f7f7f"><text y="235.85" font-size="6"><tspan x="197.13">2016</tspan></text></g><rect x="232.4" y="140.09" width="5.8" height="86.16" fill="#075fb7"/><g fill="#404040"><text y="136.49" font-size="6"><tspan x="230.29">120</tspan></text></g><rect x="240.45" y="168.81" width="5.8" height="57.44" fill="#3b80c9"/><g fill="#404040"><text y="165.21" font-size="6"><tspan x="240.01">80</tspan></text></g><rect x="248.5" y="203.27" width="5.8" height="22.98" fill="#8c8c8c"/><g fill="#404040"><text y="199.67" font-size="6"><tspan x="248.06">32</tspan></text></g><rect x="256.55" y="209.02" width="5.8" height="17.23" fill="#c9c9c9"/><g fill="#404040"><text y="205.42" font-size="6"><tspan x="256.11">24</tspan></text></g><g fill="#7f7f7f"><text y="235.85" font-size="6"><tspan x="240.73">2018</tspan></text></g><rect x="276" y="147.27" width="5.8" height="78.98" fill="#075fb7"/><g fill="#404040"><text y="143.67" font-size="6"><tspan x="273.89">110</tspan></text></g><rect x="284.05" y="161.63" width="5.8" height="64.62" fill="#3b80c9"/><g fill="#404040"><text y="158.03" font-size="6"><tspan x="283.61">90</tspan></text></g><rect x="292.1" y="187.48" width="5.8" height="38.77" fill="#8c8c8c"/><g fill="#404040"><text y="183.88" font-size="6"><tspan x="291.66">54</tspan></text></g><rect x="300.15" y="200.4" width="5.8" height="25.85" fill="#c9c9c9"/><g fill="#404040"><text y="196.8" font-size="6"><tspan x="299.71">36</tspan></text></g><g fill="#7f7f7f"><text y="235.85" font-size="6"><tspan x="284.33">2020</tspan></text></g><rect x="319.6" y="111.37" width="5.8" height="114.88" fill="#075fb7"/><g fill="#404040"><text y="107.77" font-size="6"><tspan x="317.49">160</tspan></text></g><rect x="327.65" y="157.32" width="5.8" height="68.93" fill="#3b80c9"/><g fill="#404040"><text y="153.72" font-size="6"><tspan x="327.21">96</tspan></text></g><rect x="335.7" y="196.09" width="5.8" height="30.16" fill="#8c8c8c"/><g fill="#404040"><text y="192.49" font-size="6"><tspan x="335.26">42</tspan></text></g><rect x="343.75" y="188.2" width="5.8" height="38.05" fill="#c9c9c9"/><g fill="#404040"><text y="184.6" font-size="6"><tspan x="343.31">53</tspan></text></g><g fill="#7f7f7f"><text y="235.85" font-size="6"><tspan x="327.93">2022</tspan></text></g><rect x="363.2" y="118.55" width="5.8" height="107.7" fill="#075fb7"/><g fill="#404040"><text y="114.95" font-size="6"><tspan x="361.09">150</tspan></text></g><rect x="371.25" y="140.09" width="5.8" height="86.16" fill="#3b80c9"/><g fill="#404040"><text y="136.49" font-size="6"><tspan x="369.14">120</tspan></text></g><rect x="379.3" y="200.4" width="5.8" height="25.85" fill="#8c8c8c"/><g fill="#404040"><text y="196.8" font-size="6"><tspan x="378.86">36</tspan></text></g><rect x="387.35" y="196.09" width="5.8" height="30.16" fill="#c9c9c9"/><g fill="#404040"><text y="192.49" font-size="6"><tspan x="386.91">42</tspan></text></g><g fill="#7f7f7f"><text y="235.85" font-size="6"><tspan x="371.53">2024</tspan></text></g><rect x="406.8" y="132.91" width="5.8" height="93.34" fill="#075fb7"/><g fill="#404040"><text y="129.31" font-size="6"><tspan x="404.69">130</tspan></text></g><rect x="414.85" y="147.27" width="5.8" height="78.98" fill="#3b80c9"/><g fill="#404040"><text y="143.67" font-size="6"><tspan x="412.74">110</tspan></text></g><rect x="422.9" y="181.73" width="5.8" height="44.52" fill="#8c8c8c"/><g fill="#404040"><text y="178.13" font-size="6"><tspan x="422.46">62</tspan></text></g><rect x="430.95" y="203.27" width="5.8" height="22.98" fill="#c9c9c9"/><g fill="#404040"><text y="199.67" font-size="6"><tspan x="430.51">32</tspan></text></g><g fill="#7f7f7f"><text y="235.85" font-size="6"><tspan x="415.13">2026</tspan></text></g></g><g transform="translate(0 840)"><rect x="0" y="0" width="475" height="270" fill="#fff"/><rect x="0" y="20" width="4.5" height="19.5" fill="#075fb7"/><g fill="#262626"><text y="36.3" font-size="17.85" font-weight="bold"><tspan x="22.5">柱状图数据对比</tspan></text></g><use href="#logo" x="438.2" y="27.7"/><g fill="#555"><text y="262" font-size="6.5"><tspan x="445.89">48</tspan></text></g><g fill="#404040"><text y="228.05" font-size="5"><tspan x="38.47">0</tspan></text></g><g fill="#404040"><text y="201.72" font-size="5"><tspan x="35.69">20</tspan></text></g><g fill="#404040"><text y="175.38" font-size="5"><tspan x="35.69">40</tspan></text></g><g fill="#404040"><text y="149.05" font-size="5"><tspan x="35.69">60</tspan></text></g><g fill="#404040"><text y="122.71" font-size="5"><tspan x="35.69">80</tspan></text></g><g fill="#404040"><text y="96.38" font-size="5"><tspan x="32.91">100</tspan></text></g><g fill="#404040"><text y="70.05" font-size="5"><tspan x="32.91">120</tspan></text></g><line x1="52" y1="226.25" x2="385" y2="226.25" stroke="#f0f0f0" stroke-width="0.5"/><rect x="64.5" y="95.9" width="9.6" height="130.35" fill="#075fb7"/><g fill="#404040"><text y="93.1" font-size="5"><tspan x="66.52">99</tspan></text></g><rect x="77" y="91.95" width="9.6" height="134.3" fill="#2f7bc4"/><g fill="#404040"><text y="89.15" font-size="5"><tspan x="77.63">102</tspan></text></g><rect x="89.5" y="120.91" width="9.6" height="105.34" fill="#6ba0d5"/><g fill="#404040"><text y="118.11" font-size="5"><tspan x="91.52">80</tspan></text></g><rect x="102" y="167" width="9.6" height="59.25" fill="#a6a6a6"/><g fill="#404040"><text y="164.2" font-size="5"><tspan x="104.02">45</tspan></text></g><g fill="#404040"><text y="235.55" font-size="5"><tspan x="81.61">项目</tspan><tspan x="91.61">1</tspan></text></g><rect x="150.1" y="101.16" width="9.6" height="125.09" fill="#075fb7"/><g fill="#404040"><text y="98.36" font-size="5"><tspan x="152.12">95</tspan></text></g><rect x="162.6" y="139.35" width="9.6" height="86.9" fill="#2f7bc4"/><g fill="#404040"><text y="136.55" font-size="5"><tspan x="164.62">66</tspan></text></g><rect x="175.1" y="167" width="9.6" height="59.25" fill="#6ba0d5"/><g fill="#404040"><text y="164.2" font-size="5"><tspan x="177.12">45</tspan></text></g><rect x="187.6" y="152.51" width="9.6" height="73.74" fill="#a6a6a6"/><g fill="#404040"><text y="149.71" font-size="5"><tspan x="189.62">56</tspan></text></g><g fill="#404040"><text y="235.55" font-size="5"><tspan x="167.21">项目</tspan><tspan x="177.21">2</tspan></text></g><rect x="235.7" y="160.42" width="9.6" height="65.83" fill="#075fb7"/><g fill="#404040"><text y="157.62" font-size="5"><tspan x="237.72">50</tspan></text></g><rect x="248.2" y="94.58" width="9.6" height="131.67" fill="#2f7bc4"/><g fill="#404040"><text y="91.78" font-size="5"><tspan x="248.83">100</tspan></text></g><rect x="260.7" y="114.33" width="9.6" height="111.92" fill="#6ba0d5"/><g fill="#404040"><text y="111.53" font-size="5"><tspan x="262.72">85</tspan></text></g><rect x="273.2" y="134.08" width="9.6" height="92.17" fill="#a6a6a6"/><g fill="#404040"><text y="131.28" font-size="5"><tspan x="275.22">70</tspan></text></g><g fill="#404040"><text y="235.55" font-size="5"><tspan x="252.81">项目</tspan><tspan x="262.81">3</tspan></text></g><rect x="321.3" y="167" width="9.6" height="59.25" fill="#075fb7"/><g fill="#404040"><text y="164.2" font-size="5"><tspan x="323.32">45</tspan></text></g><rect x="333.8" y="110.38" width="9.6" height="115.87" fill="#2f7bc4"/><g fill="#404040"><text y="107.58" font-size="5"><tspan x="335.82">88</tspan></text></g><rect x="346.3" y="127.5" width="9.6" height="98.75" fill="#6ba0d5"/><g fill="#404040"><text y="124.7" font-size="5"><tspan x="348.32">75</tspan></text></g><rect x="358.8" y="140.66" width="9.6" height="85.59" fill="#a6a6a6"/><g fill="#404040"><text y="137.86" font-size="5"><tspan x="360.82">65</tspan></text></g><g fill="#404040"><text y="235.55" font-size="5"><tspan x="338.41">项目</tspan><tspan x="348.41">4</tspan></text></g><rect x="417" y="74.45" width="3.6" height="3.6" fill="#075fb7"/><g fill="#1f1f1f"><text y="79.05" font-size="7.6"><tspan x="422.5">数据</tspan><tspan x="437.7">1</tspan></text></g><rect x="417" y="89.45" width="3.6" height="3.6" fill="#2f7bc4"/><g fill="#1f1f1f"><text y="94.05" font-size="7.6"><tspan x="422.5">数据</tspan><tspan x="437.7">2</tspan></text></g><rect x="417" y="104.45" width="3.6" height="3.6" fill="#6ba0d5"/><g fill="#1f1f1f"><text y="109.05" font-size="7.6"><tspan x="422.5">数据</tspan><tspan x="437.7">3</tspan></text></g><rect x="417" y="119.45" width="3.6" height="3.6" fill="#a6a6a6"/><g fill="#1f1f1f"><text y="124.05" font-size="7.6"><tspan x="422.5">数据</tspan><tspan x="437.7">4</tspan></text></g></g><g transform="translate(485 840)"><rect x="0" y="0" width="475" height="270" fill="#fff"/><rect x="0" y="20" width="4.5" height="19.5" fill="#075fb7"/><g fill="#262626"><text y="36.3" font-size="17.85" font-weight="bold"><tspan x="22.5">排行数据图表</tspan></text></g><use href="#logo" x="438.2" y="27.7"/><g fill="#555"><text y="262" font-size="6.5"><tspan x="445.89">49</tspan></text></g><rect x="40" y="122" width="17" height="99.75" fill="#d9d9d9"/><rect x="40" y="154.25" width="17" height="67.5" fill="#075fb7"/><g fill="#595959"><text y="230.7" font-size="5.5"><tspan x="42.08">NO.1</tspan></text></g><rect x="82.6" y="122" width="17" height="99.75" fill="#d9d9d9"/><rect x="82.6" y="167.5" width="17" height="54.25" fill="#075fb7"/><g fill="#595959"><text y="230.7" font-size="5.5"><tspan x="84.68">NO.2</tspan></text></g><rect x="125.2" y="122" width="17" height="99.75" fill="#d9d9d9"/><rect x="125.2" y="164.5" width="17" height="57.25" fill="#075fb7"/><g fill="#595959"><text y="230.7" font-size="5.5"><tspan x="127.28">NO.3</tspan></text></g><rect x="167.8" y="122" width="17" height="99.75" fill="#d9d9d9"/><rect x="167.8" y="166.5" width="17" height="55.25" fill="#075fb7"/><g fill="#595959"><text y="230.7" font-size="5.5"><tspan x="169.88">NO.4</tspan></text></g><rect x="210.4" y="122" width="17" height="99.75" fill="#d9d9d9"/><rect x="210.4" y="152.5" width="17" height="69.25" fill="#075fb7"/><g fill="#595959"><text y="230.7" font-size="5.5"><tspan x="212.48">NO.5</tspan></text></g><rect x="253" y="122" width="17" height="99.75" fill="#d9d9d9"/><rect x="253" y="188.75" width="17" height="33" fill="#075fb7"/><g fill="#595959"><text y="230.7" font-size="5.5"><tspan x="255.08">NO.6</tspan></text></g><rect x="295.6" y="122" width="17" height="99.75" fill="#d9d9d9"/><rect x="295.6" y="165" width="17" height="56.75" fill="#075fb7"/><g fill="#595959"><text y="230.7" font-size="5.5"><tspan x="297.68">NO.7</tspan></text></g><rect x="338.2" y="122" width="17" height="99.75" fill="#d9d9d9"/><rect x="338.2" y="147.5" width="17" height="74.25" fill="#075fb7"/><g fill="#595959"><text y="230.7" font-size="5.5"><tspan x="340.28">NO.8</tspan></text></g><rect x="380.8" y="122" width="17" height="99.75" fill="#d9d9d9"/><rect x="380.8" y="183.25" width="17" height="38.5" fill="#075fb7"/><g fill="#595959"><text y="230.7" font-size="5.5"><tspan x="382.88">NO.9</tspan></text></g><rect x="423.4" y="122" width="17" height="99.75" fill="#d9d9d9"/><rect x="423.4" y="183" width="17" height="38.75" fill="#075fb7"/><g fill="#595959"><text y="230.7" font-size="5.5"><tspan x="423.95">NO.10</tspan></text></g><g fill="#075fb7"><text y="77" font-size="15.8" font-weight="bold"><tspan x="265">8,230</tspan></text></g><g fill="#c6c6c6"><text y="77" font-size="15.8" font-weight="bold"><tspan x="373">3,620</tspan></text></g><line x1="346.75" y1="63.75" x2="346.75" y2="103.75" stroke="#e3e3e3" stroke-width="0.6"/><g fill="#595959"><text y="90" font-size="5.9" letter-spacing="0.53"><tspan x="260.2">标题数字等都可以通过点</tspan></text></g><g fill="#595959"><text y="101.2" font-size="5.9"><tspan x="260.2">击和重新输入进行更改</tspan></text></g><g fill="#595959"><text y="90" font-size="5.9" letter-spacing="0.53"><tspan x="367.7">标题数字等都可以通过点</tspan></text></g><g fill="#595959"><text y="101.2" font-size="5.9"><tspan x="367.7">击和重新输入进行更改</tspan></text></g></g><g transform="translate(0 1120)"><rect x="0" y="0" width="475" height="270" fill="#fff"/><rect x="0" y="20" width="4.5" height="19.5" fill="#075fb7"/><g fill="#262626"><text y="36.3" font-size="17.85" font-weight="bold"><tspan x="22.5">折线图数据分析工具</tspan></text></g><use href="#logo" x="438.2" y="27.7"/><g fill="#555"><text y="262" font-size="6.5"><tspan x="445.89">50</tspan></text></g><rect x="36.25" y="104.5" width="416.75" height="106" fill="#fafafa"/><g fill="#404040"><text y="72" font-size="14"><tspan x="155.81">折线图数据分析工具</tspan></text></g><g fill="#cfcfcf"><text y="107.7" font-size="6"><tspan x="22.39">230</tspan></text></g><g fill="#cfcfcf"><text y="114.99" font-size="6"><tspan x="22.39">210</tspan></text></g><g fill="#cfcfcf"><text y="122.27" font-size="6"><tspan x="22.39">190</tspan></text></g><g fill="#cfcfcf"><text y="129.56" font-size="6"><tspan x="22.39">170</tspan></text></g><g fill="#cfcfcf"><text y="136.84" font-size="6"><tspan x="22.39">150</tspan></text></g><g fill="#cfcfcf"><text y="144.13" font-size="6"><tspan x="22.39">130</tspan></text></g><g fill="#cfcfcf"><text y="151.42" font-size="6"><tspan x="22.39">110</tspan></text></g><g fill="#cfcfcf"><text y="158.7" font-size="6"><tspan x="25.73">90</tspan></text></g><g fill="#cfcfcf"><text y="165.99" font-size="6"><tspan x="25.73">70</tspan></text></g><g fill="#cfcfcf"><text y="173.27" font-size="6"><tspan x="25.73">50</tspan></text></g><g fill="#cfcfcf"><text y="180.56" font-size="6"><tspan x="25.73">30</tspan></text></g><g fill="#cfcfcf"><text y="187.85" font-size="6"><tspan x="25.73">10</tspan></text></g><g fill="#cfcfcf"><text y="195.13" font-size="6"><tspan x="23.73">-10</tspan></text></g><g fill="#cfcfcf"><text y="202.42" font-size="6"><tspan x="23.73">-30</tspan></text></g><g fill="#cfcfcf"><text y="209.7" font-size="6"><tspan x="23.73">-50</tspan></text></g><g opacity="0.16" filter="url(#ls)" transform="translate(3 7)"><path d="M63.75 171.07C72.38 169.25 98.28 158.93 115.55 160.14C132.82 161.36 150.08 178.96 167.35 178.36C184.62 177.75 201.88 157.11 219.15 156.5C236.42 155.89 253.68 175.32 270.95 174.71C288.22 174.11 305.48 153.16 322.75 152.85C340.02 152.55 357.28 171.68 374.55 172.89C391.82 174.11 417.72 162.27 426.35 160.14" fill="none" stroke="#555" stroke-width="3"/></g><g opacity="0.16" filter="url(#ls)" transform="translate(3 7)"><path d="M63.75 189.28C72.38 186.25 98.28 183.21 115.55 171.07C132.82 158.93 150.08 114 167.35 116.42C184.62 118.85 201.88 178.36 219.15 185.64C236.42 192.93 253.68 163.78 270.95 160.14C288.22 156.5 305.48 169.86 322.75 163.78C340.02 157.71 357.28 131 374.55 123.71C391.82 116.42 417.72 120.68 426.35 120.07" fill="none" stroke="#555" stroke-width="3"/></g><path d="M63.75 171.07C72.38 169.25 98.28 158.93 115.55 160.14C132.82 161.36 150.08 178.96 167.35 178.36C184.62 177.75 201.88 157.11 219.15 156.5C236.42 155.89 253.68 175.32 270.95 174.71C288.22 174.11 305.48 153.16 322.75 152.85C340.02 152.55 357.28 171.68 374.55 172.89C391.82 174.11 417.72 162.27 426.35 160.14" fill="none" stroke="#c8c8c8" stroke-width="1.9" stroke-linecap="round"/><circle cx="63.75" cy="171.07" r="2.6" fill="#c8c8c8" stroke="#fff" stroke-width="0.8"/><circle cx="115.55" cy="160.14" r="2.6" fill="#c8c8c8" stroke="#fff" stroke-width="0.8"/><circle cx="167.35" cy="178.36" r="2.6" fill="#c8c8c8" stroke="#fff" stroke-width="0.8"/><circle cx="219.15" cy="156.5" r="2.6" fill="#c8c8c8" stroke="#fff" stroke-width="0.8"/><circle cx="270.95" cy="174.71" r="2.6" fill="#c8c8c8" stroke="#fff" stroke-width="0.8"/><circle cx="322.75" cy="152.85" r="2.6" fill="#c8c8c8" stroke="#fff" stroke-width="0.8"/><circle cx="374.55" cy="172.89" r="2.6" fill="#c8c8c8" stroke="#fff" stroke-width="0.8"/><circle cx="426.35" cy="160.14" r="2.6" fill="#c8c8c8" stroke="#fff" stroke-width="0.8"/><path d="M63.75 189.28C72.38 186.25 98.28 183.21 115.55 171.07C132.82 158.93 150.08 114 167.35 116.42C184.62 118.85 201.88 178.36 219.15 185.64C236.42 192.93 253.68 163.78 270.95 160.14C288.22 156.5 305.48 169.86 322.75 163.78C340.02 157.71 357.28 131 374.55 123.71C391.82 116.42 417.72 120.68 426.35 120.07" fill="none" stroke="#075fb7" stroke-width="2.1" stroke-linecap="round"/><circle cx="63.75" cy="189.28" r="2.6" fill="#075fb7" stroke="#fff" stroke-width="0.8"/><circle cx="115.55" cy="171.07" r="2.6" fill="#075fb7" stroke="#fff" stroke-width="0.8"/><circle cx="167.35" cy="116.42" r="2.6" fill="#075fb7" stroke="#fff" stroke-width="0.8"/><circle cx="219.15" cy="185.64" r="2.6" fill="#075fb7" stroke="#fff" stroke-width="0.8"/><circle cx="270.95" cy="160.14" r="2.6" fill="#075fb7" stroke="#fff" stroke-width="0.8"/><circle cx="322.75" cy="163.78" r="2.6" fill="#075fb7" stroke="#fff" stroke-width="0.8"/><circle cx="374.55" cy="123.71" r="2.6" fill="#075fb7" stroke="#fff" stroke-width="0.8"/><circle cx="426.35" cy="120.07" r="2.6" fill="#075fb7" stroke="#fff" stroke-width="0.8"/><g fill="#bfbfbf"><text y="221" font-size="6.5"><tspan x="55.44">数据</tspan><tspan x="68.44">1</tspan></text></g><g fill="#bfbfbf"><text y="221" font-size="6.5"><tspan x="107.24">数据</tspan><tspan x="120.24">2</tspan></text></g><g fill="#bfbfbf"><text y="221" font-size="6.5"><tspan x="159.04">数据</tspan><tspan x="172.04">3</tspan></text></g><g fill="#bfbfbf"><text y="221" font-size="6.5"><tspan x="210.84">数据</tspan><tspan x="223.84">4</tspan></text></g><g fill="#bfbfbf"><text y="221" font-size="6.5"><tspan x="262.64">数据</tspan><tspan x="275.64">5</tspan></text></g><g fill="#bfbfbf"><text y="221" font-size="6.5"><tspan x="314.44">数据</tspan><tspan x="327.44">6</tspan></text></g><g fill="#bfbfbf"><text y="221" font-size="6.5"><tspan x="366.24">数据</tspan><tspan x="379.24">7</tspan></text></g><g fill="#bfbfbf"><text y="221" font-size="6.5"><tspan x="418.04">数据</tspan><tspan x="431.04">8</tspan></text></g><line x1="177" y1="93" x2="186.5" y2="93" stroke="#c6c6c6" stroke-width="1.2" stroke-dasharray="1.5 6.5 1.5"/><circle cx="182.2" cy="93" r="2" fill="#c6c6c6"/><g fill="#404040"><text y="96.4" font-size="9.5"><tspan x="188.75">Series 1</tspan></text></g><line x1="251.25" y1="93" x2="261.5" y2="93" stroke="#075fb7" stroke-width="1.2" stroke-dasharray="1.5 7 1.5"/><circle cx="256.6" cy="93" r="2" fill="#075fb7"/><g fill="#404040"><text y="96.4" font-size="9.5"><tspan x="262.5">Series 2</tspan></text></g></g><g transform="translate(485 1120)"><rect x="0" y="0" width="475" height="270" fill="#fff"/><rect x="0" y="20" width="4.5" height="19.5" fill="#075fb7"/><g fill="#262626"><text y="36.3" font-size="17.85" font-weight="bold"><tspan x="22.5">折线图表</tspan></text></g><use href="#logo" x="438.2" y="27.7"/><g fill="#555"><text y="262" font-size="6.5"><tspan x="445.89">51</tspan></text></g><g fill="#595959"><text y="73.3" font-size="8.3"><tspan x="126.6">输入图表标题</tspan></text></g><g fill="#595959"><text y="177" font-size="7"><tspan x="32.85">0</tspan></text></g><g fill="#595959"><text y="161.6" font-size="7"><tspan x="32.85">1</tspan></text></g><g fill="#595959"><text y="146.2" font-size="7"><tspan x="32.85">2</tspan></text></g><g fill="#595959"><text y="130.8" font-size="7"><tspan x="32.85">3</tspan></text></g><g fill="#595959"><text y="115.4" font-size="7"><tspan x="32.85">4</tspan></text></g><g fill="#595959"><text y="100" font-size="7"><tspan x="32.85">5</tspan></text></g><g fill="#595959"><text y="84.6" font-size="7"><tspan x="32.85">6</tspan></text></g><g fill="#595959"><text y="185.8" font-size="7"><tspan x="34.53">NO.1</tspan></text></g><g fill="#595959"><text y="185.8" font-size="7"><tspan x="113.43">NO.2</tspan></text></g><g fill="#595959"><text y="185.8" font-size="7"><tspan x="192.33">NO.3</tspan></text></g><g fill="#595959"><text y="185.8" font-size="7"><tspan x="271.23">NO.4</tspan></text></g><path d="M42.7 137.54C55.85 132.41 95.3 105.2 121.6 106.74C147.9 108.28 174.2 142.67 200.5 146.78C226.8 150.89 266.25 133.95 279.4 131.38" fill="none" stroke="#dedede" stroke-width="2.4"/><path d="M42.7 143.7C55.85 143.7 95.3 146.27 121.6 143.7C147.9 141.13 174.2 136 200.5 128.3C226.8 120.6 266.25 102.63 279.4 97.5" fill="none" stroke="#b0b0b0" stroke-width="2.4"/><path d="M42.7 108.28C55.85 112.9 95.3 133.95 121.6 136C147.9 138.05 174.2 125.73 200.5 120.6C226.8 115.47 266.25 107.77 279.4 105.2" fill="none" stroke="#075fb7" stroke-width="2.7"/><g fill="#595959"><text y="218.2" font-size="7"><tspan x="33.4">标题数字等都可以通过点击和重新输入进行更改，顶部“开始”面板中可以对字体、</tspan></text></g><g fill="#595959"><text y="229.6" font-size="7"><tspan x="33.4">字号、进行修改等编辑操作</tspan></text></g><g fill="#075fb7"><text y="83" font-size="12" font-weight="bold"><tspan x="315.6">点击此处添加标题</tspan></text></g><g fill="#595959"><text y="98.2" font-size="7"><tspan x="315.25">标题数字等都可以通过点击和重新输入进行</tspan></text></g><g fill="#595959"><text y="110.7" font-size="7"><tspan x="315.25">更改，顶部“开始”面板中可以对字体、字</tspan></text></g><g fill="#595959"><text y="123.3" font-size="7"><tspan x="315.25">号、进行修改等编辑操作</tspan></text></g><g fill="#075fb7"><text y="167" font-size="12" font-weight="bold"><tspan x="315.6">点击此处添加标题</tspan></text></g><g fill="#595959"><text y="182.2" font-size="7"><tspan x="315.25">标题数字等都可以通过点击和重新输入进行</tspan></text></g><g fill="#595959"><text y="194.7" font-size="7"><tspan x="315.25">更改，顶部“开始”面板中可以对字体、字</tspan></text></g><g fill="#595959"><text y="207.3" font-size="7"><tspan x="315.25">号、进行修改等编辑操作</tspan></text></g></g>
</svg>
</body></html>
